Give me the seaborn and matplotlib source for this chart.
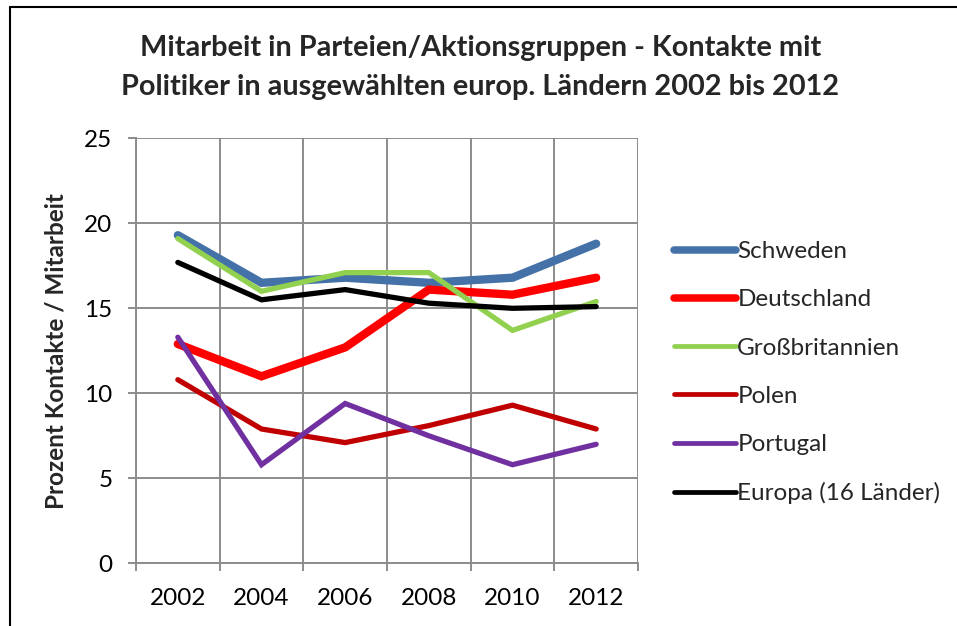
import matplotlib
matplotlib.use("Agg")
from matplotlib import pyplot as plt
from matplotlib.lines import Line2D
import numpy as np
import pandas as pd
import seaborn as sns

jahre = ['2002', '2004', '2006', '2008', '2010', '2012']

schweden = [19.3, 16.5, 16.8, 16.5, 16.8, 18.8]
deutschland = [12.9, 11.0, 12.7, 16.1, 15.8, 16.8]
grossbritannien = [19.1, 16.0, 17.1, 17.1, 13.7, 15.4]
polen = [10.8, 7.9, 7.1, 8.1, 9.3, 7.9]
portugal = [13.3, 5.8, 9.4, 7.5, 5.8, 7.0]
europa = [17.7, 15.5, 16.1, 15.3, 15.0, 15.1]

laender = ['Schweden', 'Deutschland', 'Großbritannien', 'Polen', 'Portugal', 'Europa (16 Länder)']
werte = [schweden, deutschland, grossbritannien, polen, portugal, europa]
farben = ['#4472A8', '#FF0000', '#92D050', '#C00000', '#7030A0', '#000000']
breiten = [6.0, 6.0, 3.8, 3.8, 3.8, 3.8]

sns.set_theme(style='white')
plt.rcParams['font.family'] = ['Lato', 'DejaVu Sans']

fig = plt.figure(figsize=(9.57, 6.26), dpi=100)
ax = fig.add_axes([136/957, 1-563.3/626, (638-136)/957, (563.3-138.3)/626])

for land, w, f, b in zip(laender, werte, farben, breiten):
    df = pd.DataFrame({'Jahr': jahre, 'Wert': w})
    sns.lineplot(data=df, x='Jahr', y='Wert', ax=ax, color=f, linewidth=b,
                 solid_capstyle='round', solid_joinstyle='miter', sort=False, label=land)

ax.set_xlim(-0.5, len(jahre)-0.5)
ax.set_ylim(0, 25)
ax.set_yticks([0, 5, 10, 15, 20, 25])
ax.set_xticks(range(len(jahre)))
ax.set_xticklabels(jahre)
ax.set_xticks(np.arange(-0.5, len(jahre), 1), minor=True)
ax.grid(False)
ax.grid(True, which='minor', axis='x', color='#8c8c8c', linewidth=1.4)
ax.grid(True, which='major', axis='y', color='#8c8c8c', linewidth=1.4)
ax.set_axisbelow(True)
for s in ['top', 'right']:
    ax.spines[s].set_visible(False)
ax.spines['left'].set_color('#8c8c8c')
ax.spines['bottom'].set_color('#8c8c8c')
ax.spines['left'].set_linewidth(1.4)
ax.spines['bottom'].set_linewidth(1.4)
ax.tick_params(axis='y', which='major', left=True, length=6, width=1.4, color='#8c8c8c',
               labelsize=17.5, pad=11, labelcolor='black')
ax.tick_params(axis='x', which='major', bottom=False, labelsize=17.5, pad=12, labelcolor='black')
ax.tick_params(axis='x', which='minor', bottom=True, length=6, width=1.4, color='#8c8c8c')
ax.set_xlabel('')
ax.set_ylabel('Prozent Kontakte / Mitarbeit', fontsize=17.5, fontweight='bold', labelpad=12)

fig.suptitle('Mitarbeit in Parteien/Aktionsgruppen - Kontakte mit\nPolitiker in ausgewählten europ. Ländern 2002 bis 2012',
             x=0.502, y=1-35/626, va='top', fontsize=20.8, fontweight='bold', linespacing=1.6)

handles = [Line2D([], [], color=f, linewidth=b*0.9, solid_capstyle='round') for f, b in zip(farben, breiten)]
ax.legend(handles, laender, loc='upper left', bbox_to_anchor=(662/957, 1-229/626),
          bbox_transform=fig.transFigure, frameon=False, fontsize=17.5,
          handlelength=2.55, handletextpad=0.05, labelspacing=1.12, borderpad=0)

# Rahmen links und oben
fig.add_artist(Line2D([10/957, 10/957], [0, 1-7/626], color='black', linewidth=1.5, transform=fig.transFigure))
fig.add_artist(Line2D([10/957, 1], [1-7/626, 1-7/626], color='black', linewidth=1.5, transform=fig.transFigure))

fig.savefig('out.png', dpi=100)
